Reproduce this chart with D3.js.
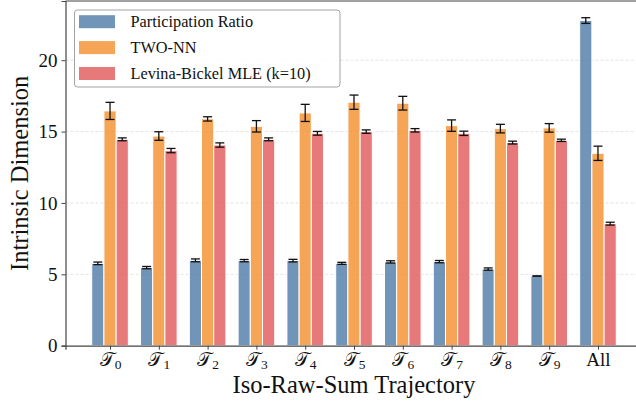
<!DOCTYPE html>
<html>
<head>
<meta charset="utf-8">
<script src="https://cdn.jsdelivr.net/npm/d3@7"></script>
<style>
  body { margin: 0; background: #fff; }
  svg { display: block; font-family: "Liberation Serif", "Times New Roman", serif; }
</style>
</head>
<body>
<script>
var categories = ["0", "1", "2", "3", "4", "5", "6", "7", "8", "9", "All"];
var seriesNames = ["Participation Ratio", "TWO-NN", "Levina-Bickel MLE (k=10)"];
var prVals   = [5.77, 5.47, 5.98, 5.96, 5.96, 5.77, 5.87, 5.89, 5.37, 4.88, 22.78];
var prErr    = [0.09, 0.08, 0.10, 0.08, 0.09, 0.07, 0.08, 0.08, 0.08, 0.01, 0.20];
var twoVals  = [16.45, 14.69, 15.89, 15.37, 16.31, 17.06, 16.99, 15.42, 15.21, 15.26, 13.48];
var twoErr   = [0.60, 0.30, 0.15, 0.40, 0.60, 0.50, 0.48, 0.40, 0.30, 0.30, 0.50];
var mleVals  = [14.46, 13.67, 14.06, 14.46, 14.88, 15.00, 15.09, 14.88, 14.23, 14.39, 8.55];
var mleErr   = [0.10, 0.15, 0.15, 0.10, 0.13, 0.12, 0.12, 0.15, 0.10, 0.08, 0.10];
var yTicks   = [0, 5, 10, 15, 20];
var colors   = ["#4E79A7", "#F28E2B", "#E15759"];

var w = 636, h = 402;
var mLeft = 65.5, mRight = 642.5, mTop = 1, mBottom = 345.7;
var serif = "Liberation Serif, Times New Roman, serif";

var series = [
    { name: seriesNames[0], vals: prVals,  err: prErr,  off: -0.25 },
    { name: seriesNames[1], vals: twoVals, err: twoErr, off: 0 },
    { name: seriesNames[2], vals: mleVals, err: mleErr, off: 0.25 }
];

var x = d3.scaleLinear().domain([-0.9125, 10.9125]).range([mLeft, mRight]);
var y = d3.scaleLinear().domain([0, 24.15]).range([mBottom, mTop]);
var bw = x(0.25) - x(0);

var svg = d3.select("body").append("svg")
    .attr("width", w)
    .attr("height", h);

// grid
svg.append("g").selectAll("line")
    .data(yTicks.slice(1))
    .enter().append("line")
    .attr("x1", mLeft).attr("x2", mRight)
    .attr("y1", function(d) { return y(d); })
    .attr("y2", function(d) { return y(d); })
    .attr("stroke", "#dcdcdc")
    .attr("stroke-width", 0.8)
    .attr("stroke-dasharray", "3,2");

// bars
series.forEach(function(s, si) {
    var g = svg.append("g");
    g.selectAll("rect")
        .data(s.vals)
        .enter().append("rect")
        .attr("x", function(d, i) { return x(i + s.off) - bw / 2; })
        .attr("y", function(d) { return y(d); })
        .attr("width", bw)
        .attr("height", function(d) { return y(0) - y(d); })
        .attr("fill", colors[si])
        .attr("fill-opacity", 0.8)
        .attr("stroke", "#fff")
        .attr("stroke-width", 1);

    var eb = g.selectAll("g.err")
        .data(s.vals)
        .enter().append("g")
        .attr("stroke", "#111")
        .attr("stroke-width", 1.3);
    eb.each(function(d, i) {
        var cx = x(i + s.off), e = s.err[i];
        var sel = d3.select(this);
        sel.append("line").attr("x1", cx).attr("x2", cx).attr("y1", y(d - e)).attr("y2", y(d + e));
        sel.append("line").attr("x1", cx - 4.5).attr("x2", cx + 4.5).attr("y1", y(d - e)).attr("y2", y(d - e));
        sel.append("line").attr("x1", cx - 4.5).attr("x2", cx + 4.5).attr("y1", y(d + e)).attr("y2", y(d + e));
    });
});

// axes
var yAxis = svg.append("g")
    .attr("transform", "translate(" + mLeft + ",0)")
    .call(d3.axisLeft(y).tickValues(yTicks).tickSize(4).tickPadding(4).tickFormat(d3.format("d")))
    .attr("font-family", serif)
    .attr("font-size", 19);
yAxis.selectAll("text").attr("fill", "#111");
yAxis.selectAll("line").attr("stroke", "#444");
yAxis.select(".domain").attr("stroke", "#444").attr("stroke-width", 1.2);

var xAxis = svg.append("g")
    .attr("transform", "translate(0," + mBottom + ")")
    .call(d3.axisBottom(x).tickValues(d3.range(categories.length)).tickSize(4).tickPadding(4).tickFormat(""))
    .attr("font-family", serif)
    .attr("font-size", 19);
xAxis.select(".domain").attr("stroke", "#444").attr("stroke-width", 1.2);
xAxis.selectAll("line").attr("stroke", "#444");
xAxis.selectAll(".tick text").remove();
xAxis.selectAll(".tick").each(function(d) {
    var t = d3.select(this).append("text")
        .attr("y", 20)
        .attr("fill", "#111")
        .attr("text-anchor", "middle");
    if (categories[d] === "All") {
        t.text("All");
    } else {
        t.append("tspan").text("\uD835\uDCAF");
        t.append("tspan").attr("font-size", 13.5).attr("dy", 3).text(categories[d]);
    }
});

// top spine
svg.append("line")
    .attr("x1", mLeft).attr("x2", mRight)
    .attr("y1", mTop).attr("y2", mTop)
    .attr("stroke", "#444").attr("stroke-width", 1.2);

// axis labels
svg.append("text")
    .attr("x", (mLeft + mRight) / 2)
    .attr("y", 393)
    .attr("text-anchor", "middle")
    .attr("font-size", 24.5)
    .attr("fill", "#111")
    .text("Iso-Raw-Sum Trajectory");

svg.append("text")
    .attr("transform", "translate(28," + (mTop + mBottom) / 2 + ")rotate(-90)")
    .attr("text-anchor", "middle")
    .attr("font-size", 24.5)
    .attr("fill", "#111")
    .text("Intrinsic Dimension");

// legend
var lg = svg.append("g").attr("transform", "translate(74.5,10)");
lg.append("rect")
    .attr("width", 265.5).attr("height", 77)
    .attr("rx", 3).attr("ry", 3)
    .attr("fill", "#fff").attr("fill-opacity", 0.85)
    .attr("stroke", "#999").attr("stroke-width", 0.9);
var li = lg.selectAll("g.item")
    .data(series)
    .enter().append("g")
    .attr("transform", function(d, i) { return "translate(0," + (11.7 + i * 25.9) + ")"; });
li.append("rect")
    .attr("x", 4.5).attr("y", -6.5)
    .attr("width", 36).attr("height", 13)
    .attr("fill", function(d, i) { return colors[i]; })
    .attr("fill-opacity", 0.8);
li.append("text")
    .attr("x", 56)
    .attr("y", 5.5)
    .attr("font-size", 16.3)
    .attr("fill", "#111")
    .text(function(d) { return d.name; });
</script>
</body>
</html>
